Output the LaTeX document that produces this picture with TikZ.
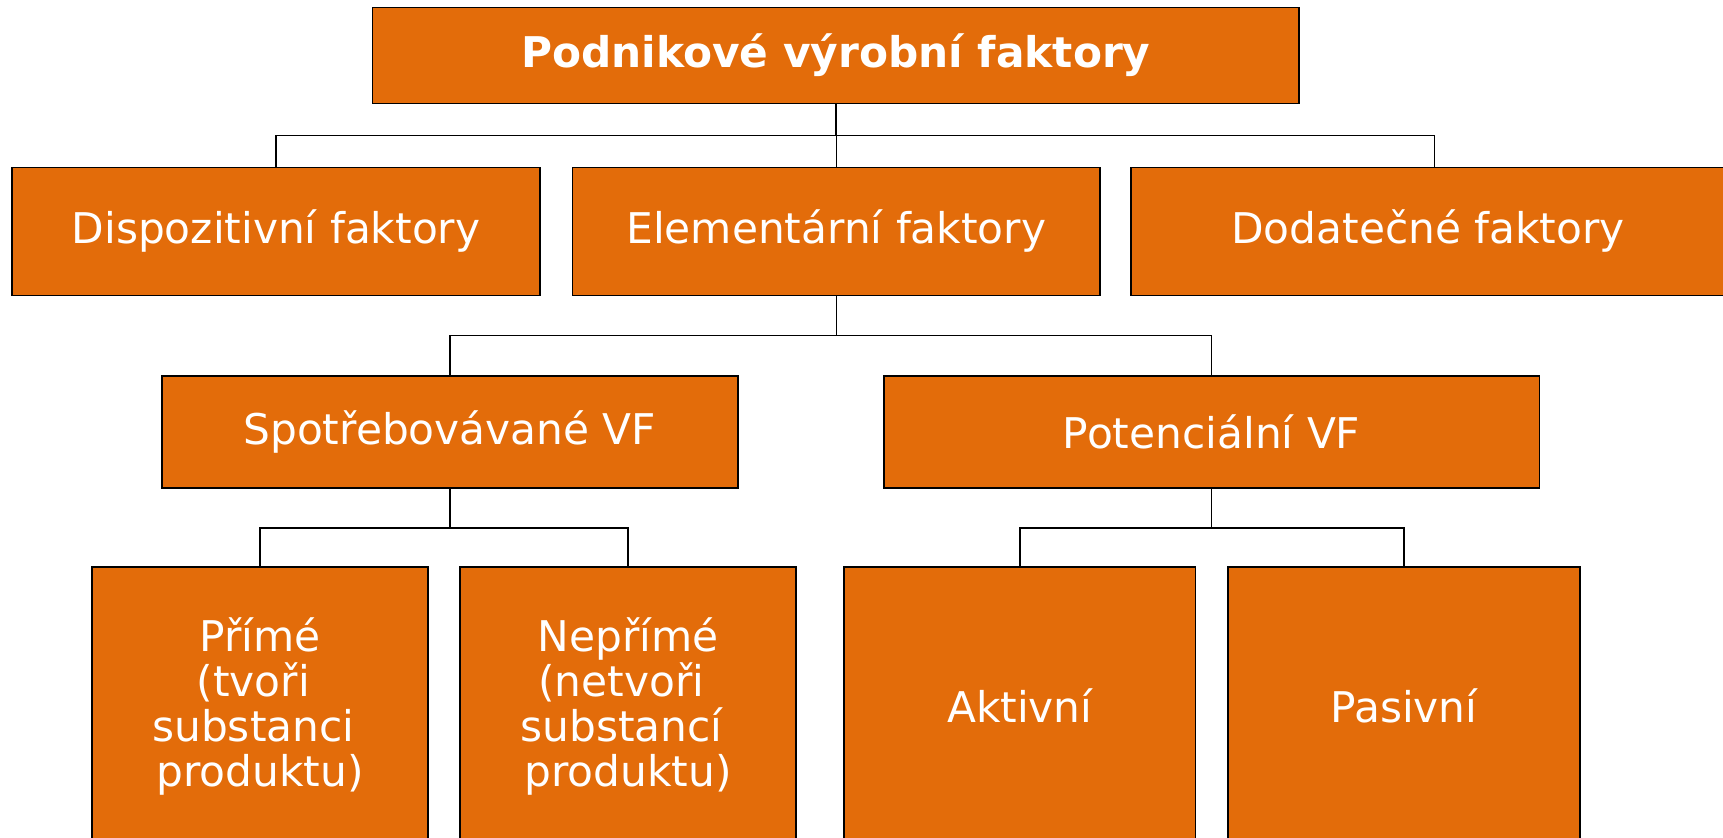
\documentclass[tikz,border=0pt]{standalone}
\usepackage{fontspec}
\setmainfont{DejaVu Sans}
\definecolor{boxorange}{RGB}{227,108,10}
\begin{document}
\begin{tikzpicture}[x=0.5pt,y=-0.5pt,
  fbox/.style={draw=black,line width=0.8pt,fill=boxorange,text=white,inner sep=0pt,
    align=center,font=\fontsize{21.15pt}{22.5pt}\selectfont},
  conn/.style={draw=black,line width=0.8pt}]
\useasboundingbox (0,0) rectangle (1723,837);
\begin{scope}
\clip (0,0) rectangle (1723,837);
% top
\node[fbox,minimum width=463.25pt,minimum height=47.9pt,font=\fontsize{21.15pt}{22.5pt}\selectfont\bfseries] (top) at (835.8,55.4) {Podnikové výrobní faktory};
% row 2
\node[fbox,minimum width=264pt,minimum height=64pt] (disp) at (276,231.3) {Dispozitivní faktory};
\node[fbox,minimum width=263.75pt,minimum height=64pt] (elem) at (836.3,231.3) {Elementární faktory};
\node[fbox,minimum width=297pt,minimum height=64pt] (dod) at (1428,231.3) {Dodatečné faktory};
% row 3
\node[fbox,minimum width=288pt,minimum height=56pt] (spot) at (449.8,431.7) {Spotřebovávané VF};
\node[fbox,minimum width=327.85pt,minimum height=56pt] (pot) at (1211.6,431.7) {Potenciální VF};
% row 4
\node[fbox,minimum width=167.85pt,minimum height=139pt] (prime) at (260,706) {Přímé\\\mbox{(tvoři\ }\\\mbox{substanci\ }\\produktu)};
\node[fbox,minimum width=167.9pt,minimum height=139pt] (neprime) at (628.1,706) {Nepřímé\\\mbox{(netvoři\ }\\\mbox{substancí\ }\\produktu)};
\node[fbox,minimum width=175.75pt,minimum height=139pt] (akt) at (1019.8,706) {Aktivní};
\node[fbox,minimum width=176pt,minimum height=139pt] (pas) at (1404,706) {Pasivní};
\end{scope}
% buses
\coordinate (bus1) at (0,135.3);
\coordinate (bus2) at (0,335.3);
\coordinate (bus3) at (0,527.7);
\draw[conn,line width=1pt] (top.south) -- (top.south |- bus1);
\draw[conn] (disp.north) -- (disp.north |- bus1) -| ([xshift=3.15pt]dod.north);
\draw[conn] (elem.north) -- (elem.north |- bus1);
\draw[conn] (elem.south) -- (elem.south |- bus2);
\draw[conn] (spot.north) -- (spot.north |- bus2) -| (pot.north);
\draw[conn] (spot.south) -- (spot.south |- bus3);
\draw[conn] (prime.north) -- (prime.north |- bus3) -| (neprime.north);
\draw[conn] (pot.south) -- (pot.south |- bus3);
\draw[conn] (akt.north) -- (akt.north |- bus3) -| (pas.north);
\end{tikzpicture}
\end{document}
